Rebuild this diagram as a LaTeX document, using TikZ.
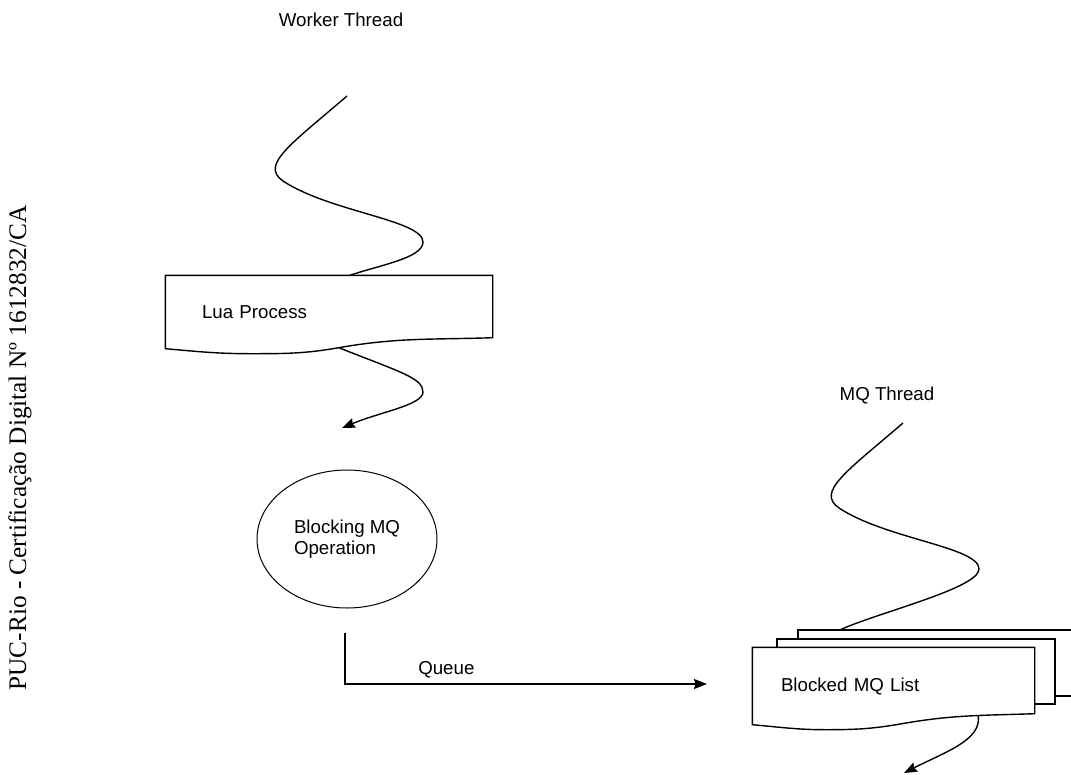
\documentclass[tikz,border=0pt]{standalone}
\usepackage{fontspec}
\setmainfont{Liberation Sans}
\newfontfamily\stampfont{Liberation Serif}
\usepackage{tikz}
\usetikzlibrary{arrows.meta,calc,shapes.geometric}
\newcommand\docbox[1]{%
  \draw (#1.north west) -- (#1.north east) -- ([yshift=11pt]#1.south east)
    to[out=182,in=10] ($(#1.south west)!.53!(#1.south east)+(0pt,1pt)$)
    to[out=190,in=0] ($(#1.south west)!.26!(#1.south east)-(0pt,5pt)$)
    to[out=180,in=-5] (#1.south west) -- cycle;}

\begin{document}
\begin{tikzpicture}[x=1pt,y=-1pt,>={Stealth[length=13pt,width=10pt,inset=1.5pt]},line width=1.4pt]
    \tikzstyle{txt}=[font=\fontsize{18.7}{21}\selectfont,text=black]
    \tikzstyle{box}=[txt,rectangle,fill=white,align=left]
    \tikzstyle{stack}=[draw,rectangle,fill=white]
    \tikzstyle{op}=[txt,draw,line width=1pt,ellipse,align=left,minimum width=180pt,minimum height=138pt]

    \useasboundingbox (0,0) rectangle (1071,774);

    \node[rotate=90,font=\stampfont\fontsize{25.3}{30}\selectfont] (stamp) at (20,448)
      {PUC-Rio - Certificação Digital Nº 1612832/CA};
    \node[txt] (wlabel) at (341,20)  {Worker Thread};
    \node[txt] (mlabel) at (887,395) {MQ Thread};

    \node[box,minimum width=326pt,minimum height=72pt,inner xsep=36pt,text width=254pt]
      (lua) at (329,312) {Lua Process};
    \node[op] (blk) at (347,539) {Blocking MQ\\Operation};
    \node[stack,minimum width=292pt,minimum height=66pt] (mq3) at (944,663) {};
    \node[stack,minimum width=278pt,minimum height=65pt] (mq2) at (916,671.5) {};
    \node[box,minimum width=281pt,minimum height=76pt,inner xsep=28pt,text width=225pt]
      (mq) at (893.5,686) {Blocked MQ List};
    \docbox{lua}
    \docbox{mq}

    \coordinate (wtop)   at (347,96);
    \coordinate (luain)  at ([xshift=21pt]lua.north);
    \coordinate (luaout) at ($(lua.south west)!.53!(lua.south east)+(0pt,1pt)$);
    \coordinate (blkin)  at (342,428);
    \coordinate (qstart) at ([xshift=-2pt,yshift=-24pt]blk.south);
    \coordinate (qend)   at (707,684);
    \coordinate (mtop)   at (903,423);
    \coordinate (mqin)   at ([xshift=44pt]mq3.north west);
    \coordinate (mqout)  at ($(mq.south west)!.8!(mq.south east)+(0pt,9pt)$);
    \coordinate (mqend)  at (904,773);

    % worker thread
    \draw (wtop) .. controls (290,145) and (260,165) .. (283,181)
                 .. controls (330,212) and (423,220) .. (423,242)
                 .. controls (423,258) and (380,265) .. (luain);
    \draw[->] (luaout) .. controls (400,372) and (423,378) .. (423,392)
                       .. controls (423,405) and (380,412) .. (blkin);
    \draw[->] (qstart) |- node[txt,pos=.64,above=2pt] (qlabel) {Queue} (qend);

    % mq thread
    \draw (mtop) .. controls (846,472) and (816,492) .. (839,508)
                 .. controls (886,539) and (979,547) .. (979,569)
                 .. controls (979,588) and (880,612) .. (mqin);
    \draw[->] (mqout) .. controls (982,740) and (945,752) .. (mqend);
\end{tikzpicture}
\end{document}
